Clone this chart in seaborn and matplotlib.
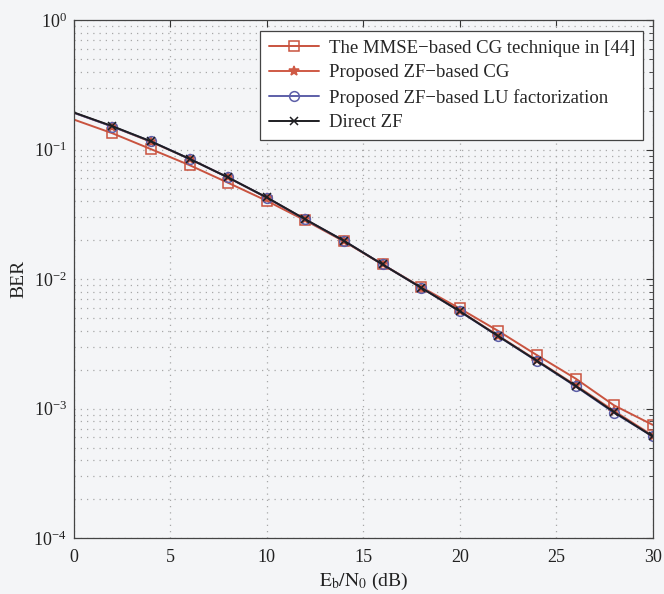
import numpy as np
import pandas as pd
import seaborn as sns
import matplotlib
matplotlib.use("Agg")
import matplotlib.pyplot as plt
from matplotlib.ticker import LogLocator, NullFormatter

# Eb/N0 in dB
snr_db = [0, 2, 4, 6, 8, 10, 12, 14, 16, 18, 20, 22, 24, 26, 28, 30]

# BER curves
mmse_cg = [0.171, 0.134, 0.101, 0.076, 0.0555, 0.0403, 0.0284, 0.0196, 0.0130, 0.0087,
           0.00594, 0.00398, 0.00259, 0.00171, 0.00106, 0.00075]
zf_cg = [0.193, 0.151, 0.115, 0.085, 0.061, 0.0426, 0.0289, 0.0197, 0.0130, 0.0086,
         0.00568, 0.00366, 0.00236, 0.00152, 0.00096, 0.00062]
zf_lu = [0.193, 0.151, 0.116, 0.085, 0.061, 0.0427, 0.0289, 0.0198, 0.0130, 0.0086,
         0.00564, 0.00362, 0.00233, 0.00149, 0.00093, 0.00061]
direct_zf = [0.194, 0.152, 0.116, 0.085, 0.061, 0.0428, 0.0290, 0.0198, 0.0130, 0.0086,
             0.00566, 0.00363, 0.00234, 0.00150, 0.00094, 0.00061]

labels = ["The MMSE\u2212based CG technique in [44]",
          "Proposed ZF\u2212based CG",
          "Proposed ZF\u2212based LU factorization",
          "Direct ZF"]
series = [mmse_cg, zf_cg, zf_lu, direct_zf]
colors = ["#c9533f", "#cf5a45", "#5d5fa8", "#1e1e22"]
markers = ["s", "*", "o", "x"]
msizes = [7, 7, 7, 6]
faces = ["none", "#cf5a45", "none", "none"]

sns.set_style("white")
plt.rcParams["font.family"] = ["Liberation Serif", "DejaVu Serif"]
plt.rcParams["mathtext.fontset"] = "stix"

bg = "#f4f5f7"
fig = plt.figure(figsize=(6.64, 5.94), dpi=100, facecolor=bg)
ax = fig.add_axes([0.111, 0.094, 0.872, 0.872])
ax.set_facecolor(bg)

for lab, vals, c, m, ms, fc in zip(labels, series, colors, markers, msizes, faces):
    df = pd.DataFrame({"snr": snr_db, "ber": vals})
    sns.lineplot(data=df, x="snr", y="ber", ax=ax, color=c, marker=m,
                 markersize=ms, markerfacecolor=fc, markeredgecolor=c,
                 markeredgewidth=1.1, linewidth=1.4, label=lab,
                 markevery=slice(1, None))

ax.set_yscale("log")
ax.set_xlim(0, 30)
ax.set_ylim(1e-4, 1)
ax.set_xticks([0, 5, 10, 15, 20, 25, 30])
ax.yaxis.set_major_locator(LogLocator(base=10, numticks=10))
ax.yaxis.set_minor_locator(LogLocator(base=10, subs=np.arange(2, 10), numticks=20))
ax.yaxis.set_minor_formatter(NullFormatter())

grid_kw = dict(linestyle=(0, (1, 4)), color="#a8a8a8", linewidth=0.9)
ax.grid(True, which="major", **grid_kw)
ax.grid(True, which="minor", axis="y", **grid_kw)

ax.tick_params(which="both", direction="in", top=True, right=True,
               labelsize=13, colors="#333333", labelcolor="#222222")
ax.tick_params(which="major", length=5)
ax.tick_params(which="minor", length=3)
ax.tick_params(axis="x", pad=8)
ax.tick_params(axis="y", pad=5)
for s in ax.spines.values():
    s.set_color("#444444")
    s.set_linewidth(0.9)

ax.set_xlabel(r"$\mathrm{E_b/N_0}$ (dB)", fontsize=14, labelpad=3, color="#222222")
ax.set_ylabel("BER", fontsize=14, labelpad=4, color="#222222")

leg = ax.legend(loc="upper right", bbox_to_anchor=(0.984, 0.979), fontsize=13.5,
                frameon=True, fancybox=False, edgecolor="#444444", facecolor="white",
                framealpha=1, handlelength=2.7, labelspacing=0.4, borderpad=0.45,
                handletextpad=0.5, borderaxespad=0)
leg.get_frame().set_linewidth(0.9)

fig.savefig("out.png", dpi=100, facecolor=bg)
